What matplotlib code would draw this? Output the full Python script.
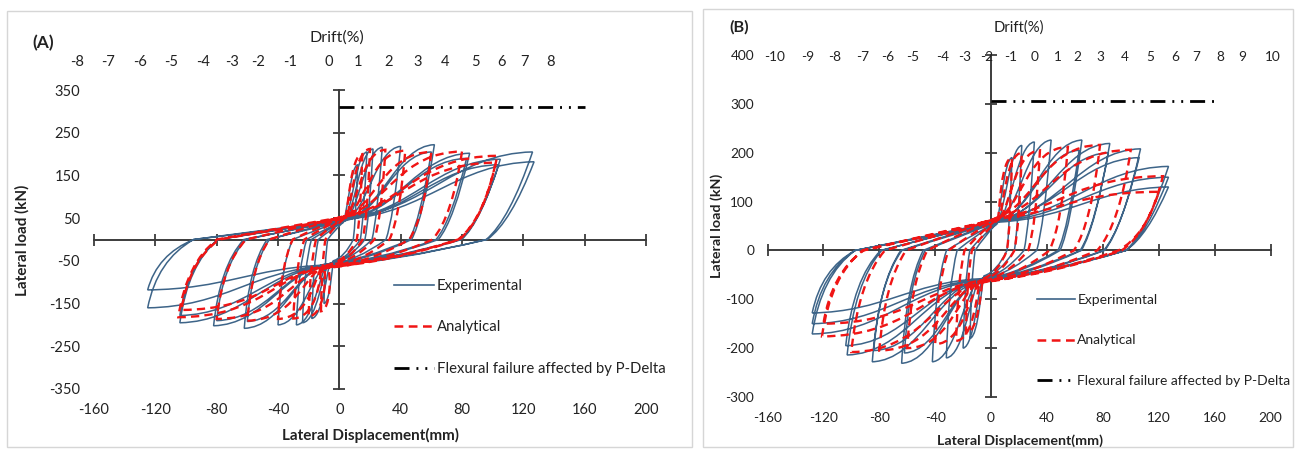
import matplotlib
matplotlib.use("Agg")
import matplotlib.pyplot as plt
from matplotlib.path import Path
from matplotlib.patches import PathPatch, Rectangle
from matplotlib.lines import Line2D
import matplotlib.transforms as mtransforms

# ---------------- data ----------------
# Each series is one continuous load path through its cycles. After the
# first point, every cycle has 14 points: a smooth loading curve to the
# positive peak (2 control points + peak), unloading (control, zero-load
# point, control, pinch point), and the same for the negative side.
A_exp_disp = [
    2,
    5.4, 7.2, 12, 10.6, 9.1, 3.4, -4, -4.5, -6, -10, -9.5, -7.6, -3.5, 3,
    8.1, 10.8, 18, 15.8, 13.7, 5, -6, -8.1, -10.8, -18, -17.1, -13.7, -6.3, 4,
    9.9, 13.2, 22, 19.4, 16.7, 6.2, -7, -10.8, -14.4, -24, -22.8, -18.2, -8.4, 4,
    12.6, 16.8, 28, 24.6, 21.3, 7.8, -8, -12.6, -16.8, -28, -26.6, -21.3, -9.8, 5,
    18, 24, 40, 35.2, 30.4, 11.2, -8, -18, -24, -40, -38, -30.4, -14, 5,
    27.9, 37.2, 62, 54.6, 47.1, 17.4, -10, -27.9, -37.2, -62, -58.9, -47.1, -21.7, 5,
    27, 36, 60, 52.8, 45.6, 16.8, -10, -27, -36, -60, -57, -45.6, -21, 6,
    38.2, 51, 85, 74.8, 64.6, 23.8, -10, -36.9, -49.2, -82, -77.9, -62.3, -28.7, 6,
    37.4, 49.8, 83, 73, 63.1, 23.2, -10, -36, -48, -80, -76, -60.8, -28, 6,
    47.2, 63, 105, 92.4, 79.8, 29.4, -10, -46.8, -62.4, -104, -98.8, -79, -36.4, 6,
    46.8, 62.4, 104, 91.5, 79, 29.1, -10, -46.8, -62.4, -104, -98.8, -79, -36.4, 6,
    56.7, 75.6, 126, 110.9, 95.8, 35.3, -10, -56.2, -75, -125, -118.8, -95, -43.8, 6,
    57.2, 76.2, 127, 111.8, 96.5, 35.6, -10, -56.2, -75, -125, -118.8, -95, -43.8, 4,
]
A_exp_load = [
    38,
    54, 172, 175, 38, 0, -42, -50, -62, -147, -150, -45, 0, 21, 42,
    62, 201, 205, 45, 0, -47, -55, -71, -181, -185, -56, 0, 22, 45,
    65, 208, 212, 47, 0, -49, -58, -74, -191, -195, -58, 0, 22, 45,
    66, 212, 216, 48, 0, -49, -58, -75, -196, -200, -60, 0, 24, 48,
    68, 214, 218, 48, 0, -51, -60, -77, -196, -200, -60, 0, 24, 48,
    69, 218, 222, 49, 0, -51, -60, -78, -204, -208, -62, 0, 22, 45,
    64, 201, 205, 45, 0, -49, -58, -74, -188, -192, -58, 0, 25, 50,
    68, 198, 202, 44, 0, -53, -62, -79, -198, -202, -61, 0, 24, 48,
    65, 186, 190, 42, 0, -51, -60, -76, -186, -190, -57, 0, 25, 50,
    67, 184, 188, 41, 0, -53, -62, -78, -191, -195, -58, 0, 24, 48,
    63, 172, 175, 38, 0, -51, -60, -74, -174, -178, -53, 0, 25, 50,
    69, 201, 205, 45, 0, -53, -62, -74, -157, -160, -48, 0, 24, 48,
    64, 178, 182, 40, 0, -51, -60, -67, -116, -118, -35, 0, 22, 45,
]
A_ana_disp = [
    4,
    6, 7.5, 15, 13.8, 11.4, 4.5, -8, -4.8, -6, -12, -11.4, -9.1, -4.2, 5,
    8, 10, 20, 18.4, 15.2, 6, -10, -8, -10, -20, -19, -15.2, -7, 5,
    12, 15, 30, 27.6, 22.8, 9, -12, -12, -15, -30, -28.5, -22.8, -10.5, 6,
    17.2, 21.5, 43, 39.6, 32.7, 12.9, -12, -16, -20, -40, -38, -30.4, -14, 6,
    24, 30, 60, 55.2, 45.6, 18, -12, -24, -30, -60, -57, -45.6, -21, 6,
    32, 40, 80, 73.6, 60.8, 24, -12, -32, -40, -80, -76, -60.8, -28, 6,
    41.2, 51.5, 103, 94.8, 78.3, 30.9, -12, -42, -52.5, -105, -99.8, -79.8, -36.8, 6,
    40.8, 51, 102, 93.8, 77.5, 30.6, -12, -41.2, -51.5, -103, -97.9, -78.3, -36, 5,
]
A_ana_load = [
    50,
    80, 198, 200, 50, 0, -51, -60, -82, -166, -168, -50, 0, 28, 55,
    86, 210, 212, 53, 0, -55, -65, -88, -178, -180, -54, 0, 28, 55,
    86, 208, 210, 52, 0, -55, -65, -89, -183, -185, -56, 0, 29, 58,
    88, 206, 208, 52, 0, -58, -68, -92, -184, -186, -56, 0, 29, 58,
    87, 203, 205, 51, 0, -58, -68, -92, -188, -190, -57, 0, 29, 58,
    88, 204, 206, 52, 0, -58, -68, -92, -184, -186, -56, 0, 28, 56,
    84, 194, 196, 49, 0, -56, -66, -89, -180, -182, -55, 0, 28, 55,
    80, 178, 180, 45, 0, -54, -64, -84, -163, -165, -50, 0, 26, 52,
]
B_exp_disp = [
    3,
    6.8, 9, 15, 13.2, 11.4, 4.2, -5, -6.8, -9, -15, -14.2, -11.4, -5.2, 4,
    9.9, 13.2, 22, 19.4, 16.7, 6.2, -6, -9, -12, -20, -19, -15.2, -7, 5,
    14, 18.6, 31, 27.3, 23.6, 8.7, -8, -14.4, -19.2, -32, -30.4, -24.3, -11.2, 5,
    19.4, 25.8, 43, 37.8, 32.7, 12, -8, -18.9, -25.2, -42, -39.9, -31.9, -14.7, 6,
    29.2, 39, 65, 57.2, 49.4, 18.2, -8, -28.8, -38.4, -64, -60.8, -48.6, -22.4, 6,
    28.4, 37.8, 63, 55.4, 47.9, 17.6, -8, -27.9, -37.2, -62, -58.9, -47.1, -21.7, 6,
    38.2, 51, 85, 74.8, 64.6, 23.8, -9, -38.2, -51, -85, -80.8, -64.6, -29.8, 7,
    37.8, 50.4, 84, 73.9, 63.8, 23.5, -8, -37.8, -50.4, -84, -79.8, -63.8, -29.4, 6,
    48.2, 64.2, 107, 94.2, 81.3, 30, -9, -46.4, -61.8, -103, -97.8, -78.3, -36, 7,
    47.7, 63.6, 106, 93.3, 80.6, 29.7, -8, -46.8, -62.4, -104, -98.8, -79, -36.4, 6,
    57.2, 76.2, 127, 111.8, 96.5, 35.6, -9, -57.6, -76.8, -128, -121.6, -97.3, -44.8, 6,
    57.2, 76.2, 127, 111.8, 96.5, 35.6, -8, -57.6, -76.8, -128, -121.6, -97.3, -44.8, 6,
    57.2, 76.2, 127, 111.8, 96.5, 35.6, -8, -57.6, -76.8, -128, -121.6, -97.3, -44.8, 5,
]
B_exp_load = [
    50,
    67, 186, 190, 42, 0, -44, -52, -67, -176, -180, -54, 0, 28, 55,
    74, 211, 215, 47, 0, -48, -56, -73, -196, -200, -60, 0, 29, 58,
    78, 218, 222, 49, 0, -51, -60, -79, -216, -220, -66, 0, 30, 60,
    80, 221, 226, 50, 0, -51, -60, -80, -223, -228, -68, 0, 30, 60,
    80, 221, 226, 50, 0, -53, -62, -82, -226, -231, -69, 0, 31, 62,
    79, 201, 205, 45, 0, -51, -60, -78, -206, -210, -63, 0, 30, 60,
    79, 215, 219, 48, 0, -54, -64, -84, -223, -228, -68, 0, 32, 64,
    80, 196, 200, 44, 0, -51, -60, -77, -201, -205, -62, 0, 30, 60,
    78, 204, 208, 46, 0, -54, -64, -82, -210, -214, -64, 0, 32, 64,
    79, 186, 190, 42, 0, -53, -62, -78, -191, -195, -58, 0, 31, 62,
    75, 169, 172, 38, 0, -53, -62, -75, -168, -171, -51, 0, 30, 60,
    71, 147, 150, 33, 0, -51, -60, -71, -147, -150, -45, 0, 29, 58,
    67, 127, 130, 29, 0, -49, -58, -66, -125, -128, -38, 0, 28, 55,
]
B_ana_disp = [
    5,
    6, 7.5, 15, 13.8, 11.4, 4.5, -6, -7.2, -9, -18, -17.1, -13.7, -6.3, 6,
    8.8, 11, 22, 20.2, 16.7, 6.6, -8, -10, -12.5, -25, -23.8, -19, -8.8, 7,
    14, 17.5, 35, 32.2, 26.6, 10.5, -8, -16, -20, -40, -38, -30.4, -14, 7,
    22, 27.5, 55, 50.6, 41.8, 16.5, -9, -24, -30, -60, -57, -45.6, -21, 8,
    31.2, 39, 78, 71.8, 59.3, 23.4, -9, -32, -40, -80, -76, -60.8, -28, 8,
    40, 50, 100, 92, 76, 30, -9, -40, -50, -100, -95, -76, -35, 7,
    49.2, 61.5, 123, 113.2, 93.5, 36.9, -9, -48.4, -60.5, -121, -115, -92, -42.4, 7,
    48, 60, 120, 110.4, 91.2, 36, -8, -48, -60, -120, -114, -91.2, -42, 6,
]
B_ana_load = [
    62,
    88, 188, 190, 48, 0, -49, -58, -80, -168, -170, -51, 0, 33, 66,
    93, 198, 200, 50, 0, -53, -62, -87, -183, -185, -56, 0, 35, 70,
    97, 203, 205, 51, 0, -55, -65, -90, -190, -192, -58, 0, 35, 70,
    98, 210, 212, 53, 0, -56, -66, -93, -198, -200, -60, 0, 36, 72,
    101, 214, 216, 54, 0, -56, -66, -94, -203, -205, -62, 0, 35, 70,
    97, 204, 206, 52, 0, -56, -66, -94, -206, -208, -62, 0, 34, 68,
    85, 150, 152, 38, 0, -54, -64, -86, -174, -176, -53, 0, 33, 66,
    77, 119, 120, 30, 0, -53, -62, -80, -148, -150, -45, 0, 32, 64,
]

pdelta_A_disp = [0, 160]
pdelta_A_load = [310, 310]
pdelta_B_disp = [0, 160]
pdelta_B_load = [305, 305]

x_ticks = [-160, -120, -80, -40, 0, 40, 80, 120, 160, 200]
y_ticks_A = [-350, -250, -150, -50, 50, 150, 250, 350]
y_ticks_B = [-300, -200, -100, 0, 100, 200, 300, 400]

drift_labels_A = [str(v) for v in range(-8, 9)]
drift_labels_B = [str(v) for v in range(-10, 11)]
# label positions on the displacement scale (layout of the top labels)
drift_pos_A = [-171, -151, -130, -110, -89, -70, -53, -32, -7, 12, 32, 51,
               69, 89, 106, 121, 138]
drift_pos_B = [-155, -131, -112, -92, -74, -56, -35, -19, -3, 14, 31, 48,
               62, 78, 96, 114, 132, 147, 164, 180, 202]

legend_labels = ["Experimental", "Analytical",
                 "Flexural failure affected by P-Delta"]

# ---------------- style ----------------
plt.rcParams['font.family'] = ['Lato', 'DejaVu Sans']
BLUE = '#3D6488'
RED = '#F01515'
AXC = '#3C3C3C'
TXT = '#222222'
PD_DASH = (5.4, 2.5, 0.7, 2.5, 0.7, 2.5)
RED_DASH = (3.5, 2.2)

W, H = 1296, 450
fig = plt.figure(figsize=(12.96, 4.5), dpi=100)


def fx(px):
    return px / W


def fy(py):
    return 1 - py / H


# chart-area frames
fig.add_artist(Rectangle((fx(7), fy(447)), (692 - 7) / W, (447 - 11) / H,
                         transform=fig.transFigure, fill=False,
                         ec='#D6D6D6', lw=1.0))
fig.add_artist(Rectangle((fx(703), fy(447)), (1293 - 703) / W, (447 - 9) / H,
                         transform=fig.transFigure, fill=False,
                         ec='#D6D6D6', lw=1.0))

CYCLE_CODES = ([Path.CURVE4] * 3 + [Path.CURVE3] * 4) * 2


def hysteresis(ax, xs, ys, **kw):
    verts = list(zip(xs, ys))
    ncyc = (len(verts) - 1) // len(CYCLE_CODES)
    codes = [Path.MOVETO] + CYCLE_CODES * ncyc
    ax.add_patch(PathPatch(Path(verts, codes), fill=False, **kw))


def panel(rect_px, ylim, yticks, exp_x, exp_y, ana_x, ana_y, pd_x, pd_y,
          drift_pos, drift_labels, drift_y, tag, tag_xy, drift_title_xy,
          ylab_xy, xlab_xy, leg_xy, xpad, ypad, fs, legsp):
    l, t, r, b = rect_px
    ax = fig.add_axes([fx(l), fy(b), (r - l) / W, (b - t) / H])
    ax.set_xlim(-160, 200)
    ax.set_ylim(*ylim)
    for s in ax.spines.values():
        s.set_visible(False)
    ax.patch.set_alpha(0)
    ax.set_xticks(x_ticks)
    ax.set_xticklabels([str(v) for v in x_ticks])
    ax.set_yticks(yticks)
    ax.set_yticklabels([str(v) for v in yticks])
    ax.tick_params(axis='x', length=0, pad=xpad, labelsize=10.5 * fs,
                   colors=TXT)
    ax.tick_params(axis='y', length=0, pad=ypad, labelsize=10.5 * fs,
                   colors=TXT)

    # crossing axes
    ax.plot([-160, 200], [0, 0], color=AXC, lw=1.4, zorder=1, clip_on=False)
    ax.plot([0, 0], [ylim[0], ylim[1]], color=AXC, lw=1.4, zorder=1,
            clip_on=False)
    ax.plot(x_ticks, [0] * len(x_ticks), ls='none', marker='|', ms=9,
            mew=1.3, color=AXC, zorder=1, clip_on=False)
    ax.plot([0] * len(yticks), yticks, ls='none', marker='_', ms=9,
            mew=1.3, color=AXC, zorder=1, clip_on=False)

    hysteresis(ax, exp_x, exp_y, ec=BLUE, lw=1.1, zorder=2)
    hysteresis(ax, ana_x, ana_y, ec=RED, lw=1.7, ls=(0, RED_DASH), zorder=3)
    ax.plot(pd_x, pd_y, color='black', lw=2.0, dashes=PD_DASH, zorder=3)

    trans = mtransforms.blended_transform_factory(ax.transData,
                                                  fig.transFigure)
    for p, lab in zip(drift_pos, drift_labels):
        ax.text(p, fy(drift_y), lab, transform=trans, ha='center',
                va='center', fontsize=10.5 * fs, color=TXT, clip_on=False)

    fig.text(fx(tag_xy[0]), fy(tag_xy[1]), tag, ha='center', va='center',
             fontsize=12.5 * fs, fontweight='bold', color=TXT)
    fig.text(fx(drift_title_xy[0]), fy(drift_title_xy[1]), 'Drift(%)',
             ha='center', va='center', fontsize=11.5 * fs, color=TXT)
    fig.text(fx(ylab_xy[0]), fy(ylab_xy[1]), 'Lateral load (kN)',
             rotation=90, ha='center', va='center', fontsize=11 * fs,
             fontweight='bold', color=TXT)
    fig.text(fx(xlab_xy[0]), fy(xlab_xy[1]), 'Lateral Displacement(mm)',
             ha='center', va='center', fontsize=11 * fs, fontweight='bold',
             color=TXT)

    handles = [Line2D([], [], color=BLUE, lw=1.2),
               Line2D([], [], color=RED, lw=1.8, ls=(0, RED_DASH)),
               Line2D([], [], color='black', lw=2.0, dashes=PD_DASH)]
    ax.legend(handles, legend_labels, loc='upper left',
              bbox_to_anchor=(fx(leg_xy[0]), fy(leg_xy[1])),
              bbox_transform=fig.transFigure, frameon=False,
              fontsize=10.7 * fs, handlelength=2.7, handletextpad=0.2,
              labelspacing=legsp, borderpad=0, borderaxespad=0,
              labelcolor=TXT)
    return ax


panel((94, 90, 646, 389), (-350, 350), y_ticks_A,
      A_exp_disp, A_exp_load, A_ana_disp, A_ana_load,
      pdelta_A_disp, pdelta_A_load, drift_pos_A, drift_labels_A, 62,
      '(A)', (43, 43), (337, 38), (22, 240), (370, 435), (394, 279),
      xpad=10, ypad=10, fs=1.0, legsp=1.85)

panel((767.5, 55, 1270.5, 397), (-300, 400), y_ticks_B,
      B_exp_disp, B_exp_load, B_ana_disp, B_ana_load,
      pdelta_B_disp, pdelta_B_load, drift_pos_B, drift_labels_B, 57,
      '(B)', (739, 27), (1019, 28), (717, 226), (1020, 441), (1037, 294),
      xpad=10.5, ypad=9.7, fs=0.935, legsp=2.05)

fig.savefig('out.png', dpi=100)
